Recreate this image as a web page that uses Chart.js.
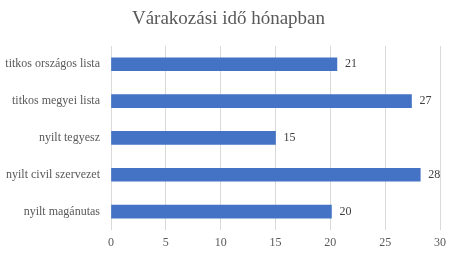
<!DOCTYPE html>
<html>
<head>
<meta charset="utf-8">
<script src="https://cdn.jsdelivr.net/npm/chart.js@4"></script>
<style>
html,body{margin:0;padding:0;background:#fff;}
#wrap{width:457px;height:254px;}
</style>
</head>
<body>
<div id="wrap"><canvas id="c" width="457" height="254"></canvas></div>
<script>
const chartTitle = "Várakozási idő hónapban";
const categories = ["titkos országos lista", "titkos megyei lista", "nyilt tegyesz", "nyilt civil szervezet", "nyilt magánutas"];
const values = [20.6, 27.4, 15, 28.2, 20.1];
const xTicks = [0, 5, 10, 15, 20, 25, 30];

const FONT = "'Liberation Serif', 'Times New Roman', serif";
const TEXT = "#595959";

const valueLabels = {
  id: "valueLabels",
  afterDatasetsDraw(chart) {
    const ctx = chart.ctx;
    const meta = chart.getDatasetMeta(0);
    ctx.save();
    ctx.font = "12px " + FONT;
    ctx.fillStyle = "#404040";
    ctx.textAlign = "left";
    ctx.textBaseline = "middle";
    meta.data.forEach((bar, i) => {
      ctx.fillText(String(Math.round(values[i])), bar.x + 8, bar.y);
    });
    ctx.restore();
  }
};

new Chart(document.getElementById("c"), {
  type: "bar",
  data: {
    labels: categories,
    datasets: [{
      data: values,
      backgroundColor: "#4472C4",
      barThickness: 13
    }]
  },
  options: {
    indexAxis: "y",
    responsive: false,
    animation: false,
    devicePixelRatio: 1,
    layout: { padding: 0 },
    plugins: {
      legend: { display: false },
      tooltip: { enabled: false },
      title: {
        display: true,
        text: chartTitle,
        color: TEXT,
        font: { family: FONT, size: 19, weight: "normal" },
        padding: { top: 8, bottom: 15 }
      }
    },
    scales: {
      x: {
        min: 0,
        max: 30,
        afterBuildTicks(scale) { scale.ticks = xTicks.map(v => ({ value: v })); },
        afterFit(scale) { scale.height = 24; },
        grid: { color: "#d9d9d9", drawTicks: false },
        border: { display: false },
        ticks: { color: TEXT, font: { family: FONT, size: 12 }, padding: 6, maxRotation: 0 }
      },
      y: {
        afterFit(scale) { scale.width = 111; },
        grid: { display: false, drawTicks: false },
        border: { display: false },
        ticks: { color: TEXT, font: { family: FONT, size: 12 }, padding: 11 }
      },
      yRight: {
        type: "category",
        position: "right",
        afterFit(scale) { scale.width = 17; },
        grid: { display: false, drawTicks: false },
        border: { display: false },
        ticks: { display: false }
      }
    }
  },
  plugins: [valueLabels]
});
</script>
</body>
</html>
